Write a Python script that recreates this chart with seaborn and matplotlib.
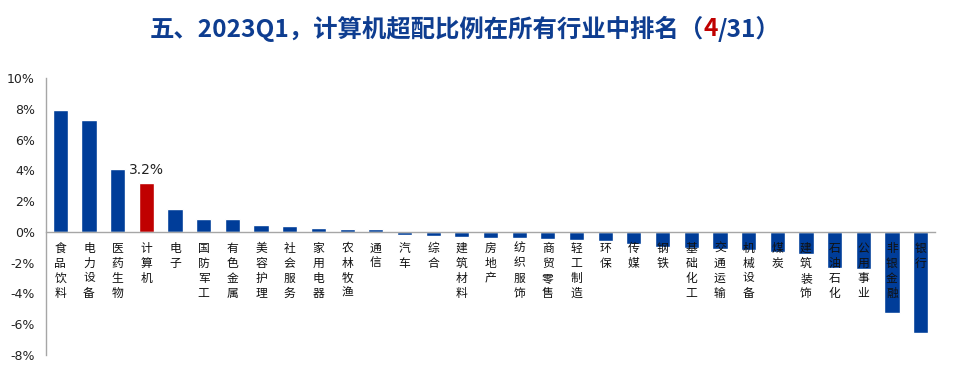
import matplotlib
matplotlib.use("Agg")
import matplotlib.pyplot as plt
import seaborn as sns
import pandas as pd
import numpy as np

categories = ["食品饮料", "电力设备", "医药生物", "计算机", "电子", "国防军工", "有色金属",
              "美容护理", "社会服务", "家用电器", "农林牧渔", "通信", "汽车", "综合",
              "建筑材料", "房地产", "纺织服饰", "商贸零售", "轻工制造", "环保", "传媒",
              "钢铁", "基础化工", "交通运输", "机械设备", "煤炭", "建筑装饰", "石油石化",
              "公用事业", "非银金融", "银行"]
values = [7.9, 7.3, 4.1, 3.2, 1.5, 0.83, 0.83, 0.43, 0.4, 0.28, 0.2, 0.17, -0.2, -0.25,
          -0.35, -0.37, -0.4, -0.47, -0.5, -0.6, -0.8, -0.97, -1.05, -1.12, -1.2, -1.3,
          -1.45, -2.35, -2.4, -5.3, -6.6]
highlight = "计算机"
highlight_label = "3.2%"
yticks = [-8, -6, -4, -2, 0, 2, 4, 6, 8, 10]
title_parts = ["五、2023Q1，计算机超配比例在所有行业中排名（", "4", "/31）"]

BLUE = "#003d99"
RED = "#c00000"
TITLE_BLUE = "#0e3d90"

sns.set_theme(style="white")
plt.rcParams['font.family'] = ['Noto Sans CJK SC', 'DejaVu Sans']

df = pd.DataFrame({"cat": categories, "val": values})
palette = {c: (RED if c == highlight else BLUE) for c in categories}

fig = plt.figure(figsize=(9.56, 3.70), dpi=100)
ax = fig.add_axes([46 / 956, 1 - 355 / 370, (935 - 46) / 956, (355 - 78) / 370])
sns.barplot(data=df, x="cat", y="val", hue="cat", palette=palette, order=categories,
            hue_order=categories, width=0.53, legend=False, ax=ax, saturation=1)

ax.set_xlim(-0.5, len(categories) - 0.5)
ax.set_ylim(-8, 10)
ax.set_yticks(yticks)
ax.set_yticklabels([f"{t}%" for t in yticks], family="DejaVu Sans", fontsize=9, color="#222222")
ax.set_xlabel("")
ax.set_ylabel("")

for s in ["top", "right"]:
    ax.spines[s].set_visible(False)
ax.spines["left"].set_color("#a6a6a6")
ax.spines["bottom"].set_color("#a6a6a6")
ax.spines["bottom"].set_position(("data", 0))
ax.spines["left"].set_linewidth(1)
ax.spines["bottom"].set_linewidth(1)

ax.set_xticks(np.arange(-0.5, len(categories), 1.0))
ax.set_xticklabels([])
ax.tick_params(axis="x", direction="in", length=4, color="#a6a6a6", width=1)
ax.tick_params(axis="y", direction="in", length=4, color="#a6a6a6", width=1, pad=8)

for i, c in enumerate(categories):
    ax.annotate("\n".join(c), xy=(i, 0), xytext=(0, -7), textcoords="offset points",
                ha="center", va="top", fontsize=8.5, color="#111111", linespacing=1.2,
                zorder=5)

hi = categories.index(highlight)
ax.annotate(highlight_label, xy=(hi, values[hi]), xytext=(0, 4), textcoords="offset points",
            ha="center", va="bottom", fontsize=10, family="DejaVu Sans", color="#222222")

# Title in pieces
colors = [TITLE_BLUE, RED, TITLE_BLUE]
texts = [fig.text(0, 0, p, fontsize=17.6, fontweight="bold", color=col, va="center", ha="left")
         for p, col in zip(title_parts, colors)]
fig.canvas.draw()
r = fig.canvas.get_renderer()
widths = [t.get_window_extent(r).width for t in texts]
total = sum(widths)
x0 = 465 - total / 2
yc = 1 - 29 / 370
for t, w in zip(texts, widths):
    t.set_position((x0 / 956, yc))
    x0 += w

fig.savefig("out.png", dpi=100)
